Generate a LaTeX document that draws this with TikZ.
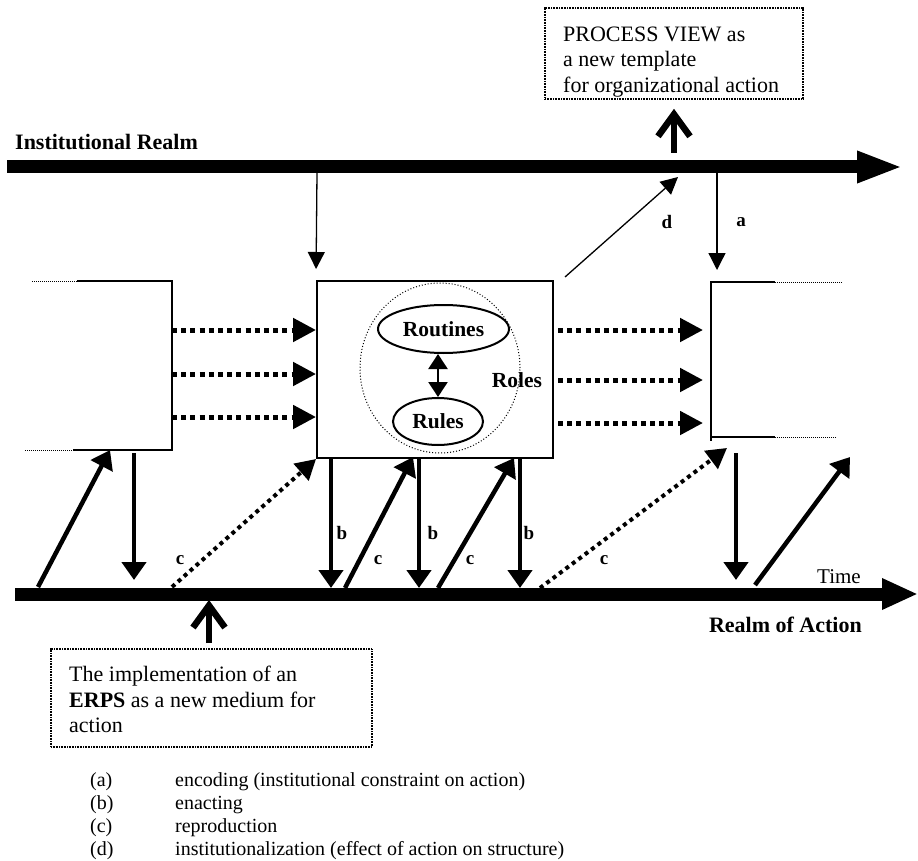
\documentclass[tikz,border=0pt]{standalone}
\usepackage{fontspec}
\setmainfont{Liberation Serif}
\usetikzlibrary{arrows.meta,shapes.geometric,calc}
\begin{document}
\begin{tikzpicture}[x=1pt,y=-1pt,
 thinarr/.style={line width=1.3pt,-{Triangle[length=17pt,width=17pt]}},
 boldarr/.style={line width=4.5pt,-{Triangle[length=18pt,width=24pt]}},
 dotarr/.style={line width=4pt,dash pattern=on 4pt off 4pt,-{Triangle[length=20pt,width=22pt]}},
 hdotarr/.style={line width=5pt,dash pattern=on 5pt off 4.2pt,-{Triangle[length=23pt,width=23pt]}},
 lbl/.style={font=\fontsize{19}{21}\selectfont\bfseries, inner sep=0pt},
 bigtext/.style={font=\fontsize{22}{25.5}\selectfont, align=left, inner sep=0pt},
 realmtext/.style={font=\fontsize{22}{24}\selectfont\bfseries, inner sep=0pt},
 realm/.style={line width=13pt},
 openarr/.style={line width=6.5pt,-{Straight Barb[length=22pt,width=32pt]}},
 note/.style={draw,line width=1.6pt,dash pattern=on 1pt off 0.6pt,inner sep=0pt},
 legend/.style={font=\fontsize{20}{23}\selectfont, inner sep=0pt, anchor=base west},
 inner/.style={font=\fontsize{21.5}{24}\selectfont\bfseries, inner sep=0pt},
 thinline/.style={line width=1.5pt},
 fadeline/.style={line width=1pt,dash pattern=on 1pt off 1pt}
]
\useasboundingbox (0,0) rectangle (918,861);

% realms
\coordinate (tb0) at (7,167);
\coordinate (tb1) at (903,167);
\draw[realm,-{Triangle[length=46pt,width=29pt]}] (tb0) -- (tb1);
\node[realmtext,anchor=base west] (instr) at (15,150) {Institutional Realm};

\coordinate (bb0) at (15,594);
\coordinate (bb1) at (918,594);
\draw[realm,-{Triangle[length=36pt,width=29pt]}] (bb0) -- (bb1);
\node[font=\fontsize{21}{23}\selectfont, inner sep=0pt, anchor=base west] (time) at (817,583) {Time};
\node[realmtext,anchor=base east] (actr) at (862,632) {Realm of Action};

% central structure box
\node[draw, line width=2pt, minimum width=236pt, minimum height=177pt, inner sep=0pt] (core) at (435,369.5) {};
\node[draw, dotted, line width=1pt, ellipse, minimum width=160pt, minimum height=170pt, inner sep=0pt] (rolesring) at (440,368) {};
\node[draw, line width=2pt, ellipse, minimum width=131pt, minimum height=48pt, inner sep=0pt, inner] (routines) at (443.5,329) {Routines};
\node[draw, line width=2pt, ellipse, minimum width=90pt, minimum height=47pt, inner sep=0pt, inner] (rules) at (438,421.5) {Rules};
\node[inner] (roles) at (517,380) {Roles};
\draw[line width=2.4pt,{Triangle[length=15pt,width=19pt]}-{Triangle[length=15pt,width=19pt]}] (rules.north) -- (rules.north |- routines.south);

% left partial box
\coordinate (lt0) at (32,281); \coordinate (lt1) at (77,281); \coordinate (lt2) at (172,281);
\coordinate (lb0) at (25,450); \coordinate (lb1) at (73,450); \coordinate (lb2) at (172,450);
\draw[fadeline] (lt0) -- (lt1);
\draw[fadeline] (lb0) -- (lb1);
\draw[thinline] (lt1) -- (lt2) -- (lb2) -- (lb1);

% right partial box
\coordinate (rt0) at (842,282); \coordinate (rt1) at (775,282); \coordinate (rt2) at (711,282);
\coordinate (rb0) at (836,437); \coordinate (rb1) at (775,437); \coordinate (rb2) at (711,437);
\coordinate (rbx) at (711,441);
\draw[fadeline] (rt0) -- (rt1);
\draw[fadeline] (rb0) -- (rb1);
\draw[thinline] (rt1) -- (rt2) -- (rbx);
\draw[thinline] (rb2) -- (rb1);

% dotted horizontal flows
\foreach \y/\n in {330/1,374/2,417/3}{
  \coordinate (lf\n) at (172,\y);
  \draw[hdotarr] (lf\n) -- (lf\n -| core.west);
}
\foreach \y/\n in {330/1,380/2,423/3}{
  \coordinate (rf\n) at (558,\y);
  \coordinate (rg\n) at (711,\y);
  \draw[hdotarr, shorten >=8pt] (rf\n) -- (rg\n);
}

% encoding arrows from institutional realm
\coordinate (e1) at (317,173);
\draw[thinarr, shorten >=11pt] (e1) -- (core.north west);
\coordinate (a0) at (717,173);
\coordinate (a1) at (717,270);
\draw[thinarr] (a0) -- (a1);
\node[lbl] (alab) at (741,222) {a};

% institutionalization
\coordinate (d0) at (565,277);
\coordinate (d1) at (678,177);
\draw[thinarr] (d0) -- (d1);
\node[lbl] (dlab) at (667,222) {d};

% process view note
\node[note, minimum width=258pt, minimum height=91pt] (pv) at (674,53.5) {};
\node[bigtext, anchor=north west] (pvtext) at (563,26.5) {PROCESS VIEW as\\a new template\\for organizational action};
\coordinate (pvup) at (674,153);
\draw[openarr, shorten >=9pt] (pvup) -- (pv.south);

% ERPS note
\node[note, minimum width=321pt, minimum height=98pt] (erps) at (211.5,698) {};
\node[bigtext, anchor=north west] (erpstext) at (69,666) {The implementation of an\\\textbf{ERPS} as a new medium for\\action};
\coordinate (erpsup) at (209,643);
\coordinate (erpstip) at (209,600);
\draw[openarr] (erpsup) -- (erpstip);

% action / structure arrows
\coordinate (u1a) at (38,587); \coordinate (u1b) at (110,450);
\draw[boldarr] (u1a) -- (u1b);
\coordinate (d1a) at (134,453); \coordinate (d1b) at (134,580);
\draw[boldarr] (d1a) -- (d1b);

\coordinate (c1a) at (172,587);
\draw[dotarr] (c1a) -- (core.south west);
\node[lbl] (c1l) at (180,560) {c};

\foreach \x/\n in {331/1,419/2,520/3}{
  \coordinate (bt\n) at (\x,458);
  \coordinate (bb\n) at (\x,588);
  \draw[boldarr] (bt\n) -- (bb\n);
}
\node[lbl] (b1l) at (342,533) {b};
\node[lbl] (b2l) at (433,533) {b};
\node[lbl] (b3l) at (529,533) {b};

\coordinate (c2a) at (345,588); \coordinate (c2b) at (413,457);
\draw[boldarr] (c2a) -- (c2b);
\node[lbl] (c2l) at (378,560) {c};
\coordinate (c3a) at (438,588); \coordinate (c3b) at (514,458);
\draw[boldarr] (c3a) -- (c3b);
\node[lbl] (c3l) at (470,560) {c};

\coordinate (c4a) at (540,588); \coordinate (c4b) at (727,448);
\draw[dotarr] (c4a) -- (c4b);
\node[lbl] (c4l) at (604,560) {c};

\coordinate (d2a) at (736,453); \coordinate (d2b) at (736,580);
\draw[boldarr] (d2a) -- (d2b);
\coordinate (u2a) at (755,585); \coordinate (u2b) at (850,457);
\draw[boldarr] (u2a) -- (u2b);

% legend
\node[legend] (la) at (90,786) {(a)};
\node[legend] (lb) at (90,809) {(b)};
\node[legend] (lc) at (90,832) {(c)};
\node[legend] (ld) at (90,855) {(d)};
\node[legend] (ta) at (175,786) {encoding (institutional constraint on action)};
\node[legend] (tb) at (175,809) {enacting};
\node[legend] (tc) at (175,832) {reproduction};
\node[legend] (td) at (175,855) {institutionalization (effect of action on structure)};
\end{tikzpicture}
\end{document}
